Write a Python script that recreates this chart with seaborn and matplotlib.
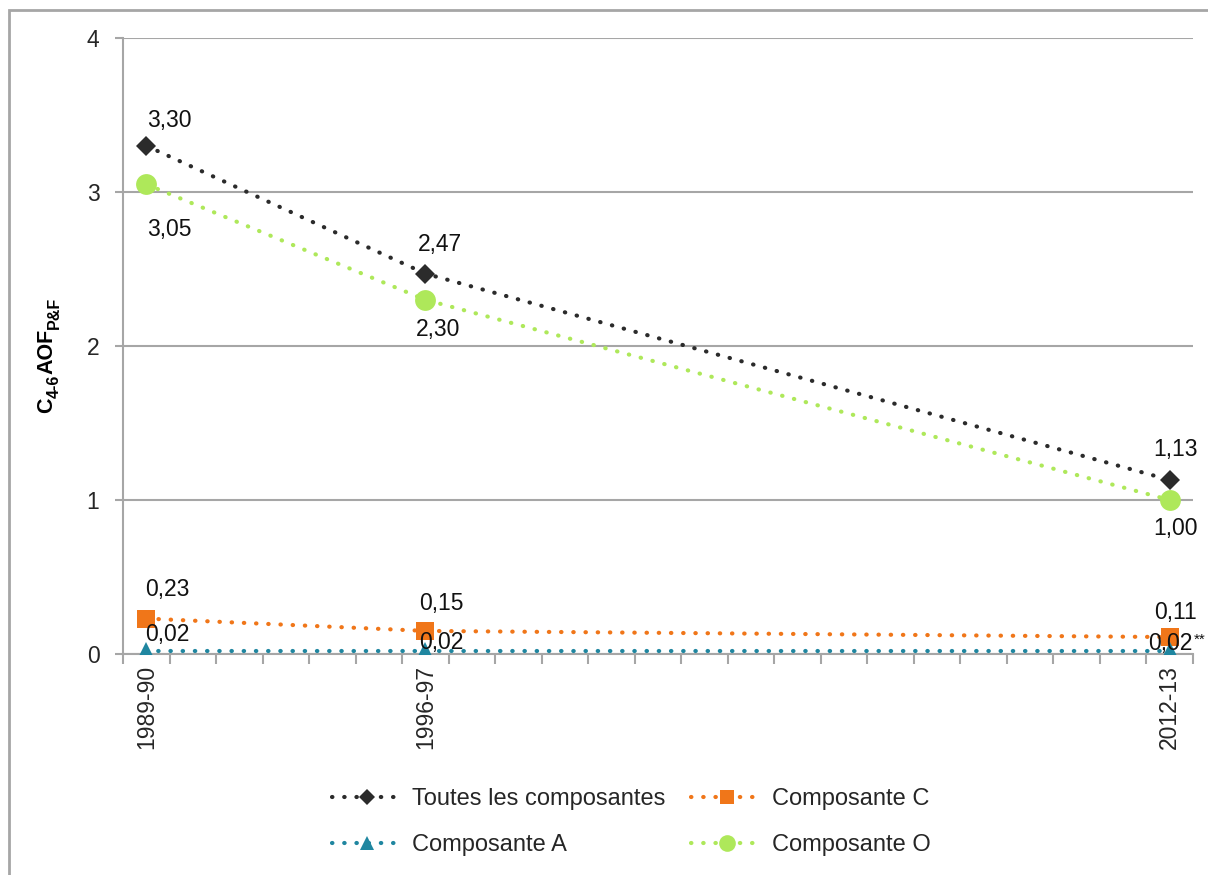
import matplotlib
matplotlib.use("Agg")
import matplotlib.pyplot as plt
import matplotlib.patches as mpatches
import seaborn as sns
import numpy as np

# ---- data ----
periods = ["1989-90", "1996-97", "2012-13"]
period_pos = [0, 6, 22]          # position on the source's time axis (23 slots)
n_slots = 23
toutes = [3.30, 2.47, 1.13]
comp_c = [0.23, 0.15, 0.11]
comp_a = [0.02, 0.02, 0.02]
comp_o = [3.05, 2.30, 1.00]
series_names = ["Toutes les composantes", "Composante C", "Composante A", "Composante O"]
label_suffix_a = ["", "", "**"]
ylabel_parts = [("C", False), ("4-6", True), ("AOF", False), ("P&F", True)]

# ---- style ----
sns.set_theme(style="white")
plt.rcParams["font.family"] = ["Liberation Sans", "DejaVu Sans"]

W, H = 1208, 875
FS = 16.5
GRAY = "#A6A6A6"
colors = {"Toutes les composantes": "#2B2B2B", "Composante C": "#F07619",
          "Composante A": "#1F86A0", "Composante O": "#AEE85A"}
markers = {"Toutes les composantes": ("D", 10), "Composante C": ("s", 13),
           "Composante A": ("^", 13), "Composante O": ("o", 15)}
values = {"Toutes les composantes": toutes, "Composante C": comp_c,
          "Composante A": comp_a, "Composante O": comp_o}
# label offsets in pixels (dx, dy) per series and point
offsets = {"Toutes les composantes": [(23, 25), (15, 29), (6, 30)],
           "Composante C": [(21, 29), (16, 27), (6, 25)],
           "Composante A": [(21, 16), (16, 8), (1, 7)],
           "Composante O": [(23, -45), (13, -30), (6, -28)]}

fig = plt.figure(figsize=(W/100, H/100), dpi=100)
ax = fig.add_axes([123/W, 1-654/H, (1193-123)/W, (654-38)/H])

handles = {}
for name in series_names:
    m, ms = markers[name]
    sns.lineplot(x=period_pos, y=values[name], ax=ax, color=colors[name],
                 marker=m, markersize=ms, markeredgewidth=0,
                 linewidth=3.0, linestyle=(0, (0.1, 2.83)),
                 dash_capstyle="round", label=name, zorder=3)
    handles[name] = ax.get_lines()[-1]

# data labels
for name in series_names:
    vals = values[name]
    for i, (xp, v) in enumerate(zip(period_pos, vals)):
        txt = f"{v:.2f}".replace(".", ",")
        dx, dy = offsets[name][i]
        ax.annotate(txt, (xp, v), xytext=(dx, dy), textcoords="offset pixels",
                    ha="center", va="center", fontsize=FS, color="#111111",
                    zorder=5, annotation_clip=False)
        if name == "Composante A" and label_suffix_a[i]:
            ax.annotate(label_suffix_a[i], (xp, v), xytext=(dx + 23, dy + 4),
                        textcoords="offset pixels", ha="left", va="center",
                        fontsize=11, color="#111111", zorder=5,
                        annotation_clip=False)

ax.set_xlim(-0.5, n_slots - 0.5)
ax.set_ylim(0, 4)
ax.set_yticks([0, 1, 2, 3, 4])
ax.set_yticklabels(["0", "1", "2", "3", "4"], fontsize=FS)
ax.set_xticks(np.arange(-0.5, n_slots, 1.0))
ax.set_xticklabels([])
ax.set_xticks(period_pos, minor=True)
ax.set_xticklabels(periods, minor=True, rotation=90, fontsize=FS)
ax.tick_params(axis="x", which="major", length=7, width=1.5, color=GRAY, direction="out", bottom=True)
ax.tick_params(axis="x", which="minor", length=0, pad=8, bottom=True)
ax.tick_params(axis="y", which="major", length=6, width=1.5, color=GRAY, pad=11, left=True)
ax.grid(axis="y", color=GRAY, linewidth=1.5)
ax.grid(axis="x", visible=False)
for s in ["top", "right"]:
    ax.spines[s].set_visible(False)
for s in ["left", "bottom"]:
    ax.spines[s].set_color(GRAY)
    ax.spines[s].set_linewidth(1.5)
ax.set_axisbelow(True)
ax.set_xlabel("")
ax.set_ylabel("")

# y label built from pieces (bold with subscripts), rotated 90
renderer = fig.canvas.get_renderer()
y_cursor = H - 413          # bottom of label in figure pixels
base_main = 52              # baseline x (pixels) for main text
base_sub = 59               # baseline x for subscripts
for part, is_sub in ylabel_parts:
    fs = 11.5 if is_sub else 15.5
    probe = fig.text(0, 0, part, fontsize=fs, fontweight="bold")
    w = probe.get_window_extent(renderer).width
    probe.remove()
    fig.text((base_sub if is_sub else base_main)/W, y_cursor/H, part,
             fontsize=fs, fontweight="bold", rotation=90,
             rotation_mode="anchor", ha="left", va="baseline", color="black")
    y_cursor += w

ax.get_legend().remove()
order = ["Toutes les composantes", "Composante A", "Composante C", "Composante O"]
fig.legend([handles[n] for n in order], order, loc="center",
           bbox_to_anchor=(631/W, 1-822/H), ncol=2, frameon=False,
           fontsize=17, handlelength=3.0, numpoints=1, columnspacing=1.1,
           handletextpad=0.4, labelspacing=1.0, markerscale=0.8)

# chart border
fig.add_artist(mpatches.Rectangle((9/W, -0.1), 1.2, 1.1 - 10/H,
                                  transform=fig.transFigure, fill=False,
                                  edgecolor=GRAY, linewidth=2, clip_on=False))

fig.savefig("out.png", dpi=100)
